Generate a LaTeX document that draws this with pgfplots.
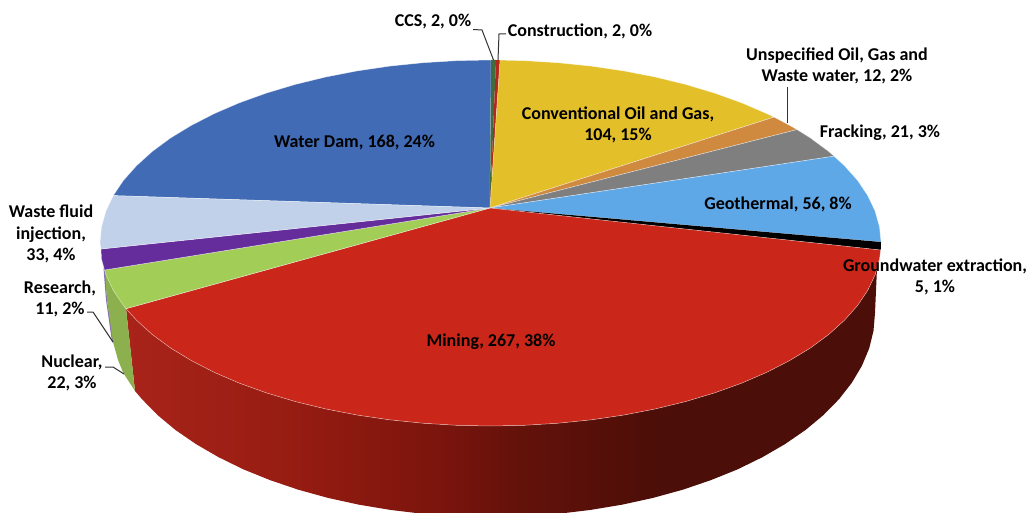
\documentclass[border=0pt]{standalone}
\usepackage{pgfplots}
\pgfplotsset{compat=1.18}
\usepackage{fontspec}
\setmainfont{Carlito}[BoldFont={Carlito Bold}]
\pgfdeclarehorizontalshading{wall}{100bp}{rgb(0bp)=(.66,.14,.10); rgb(25bp)=(.66,.14,.10); rgb(36bp)=(.59,.11,.07); rgb(46bp)=(.48,.08,.05); rgb(51bp)=(.39,.07,.04); rgb(60bp)=(.30,.055,.03); rgb(100bp)=(.30,.055,.03)}
\definecolor{cDam}{HTML}{416BB5}
\definecolor{cYel}{HTML}{E3BF2A}
\definecolor{cOra}{HTML}{CF8A3F}
\definecolor{cGry}{HTML}{7F7F7F}
\definecolor{cGeo}{HTML}{5FA8E8}
\definecolor{cRed}{HTML}{CA271A}
\definecolor{cGrn}{HTML}{A2CE58}
\definecolor{cGrnS}{HTML}{8DB04E}
\definecolor{cPur}{HTML}{652D9B}
\definecolor{cPurS}{HTML}{8A70B8}
\definecolor{cWst}{HTML}{C1D1EA}
\definecolor{cCcs}{HTML}{3F6D3B}
\definecolor{cCon}{HTML}{B5261C}
\pgfplotsset{slice/.style={fill=#1,draw=white,draw opacity=.55,line width=.5pt,line join=round,forget plot},
 leader/.style={draw=black!80,line width=1pt,forget plot}}
\tikzset{lab/.style={font=\fontsize{18}{21.5}\selectfont\bfseries,align=center,inner sep=0pt,text=black}}
\begin{document}
\begin{tikzpicture}
\useasboundingbox (0,0) rectangle (1028pt,513pt);
\begin{axis}[hide axis,scale only axis,width=1028pt,height=513pt,xmin=0,xmax=1028,ymin=0,ymax=513,y dir=reverse,no markers,clip mode=individual,at={(0,0)},anchor=south west]
% side walls
\addplot[shading=wall,draw=none,forget plot] coordinates {(877,268)(875.1,274.8)(867.7,290.4)(857.5,305.6)(844.4,320.3)(828.7,334.5)(810.4,348)(789.6,360.6)(766.6,372.4)(741.5,383.2)(714.5,392.9)(685.8,401.5)(655.5,408.9)(624.1,415)(591.6,419.8)(558.3,423.2)(524.6,425.3)(490.5,426)(456.4,425.3)(422.7,423.2)(389.4,419.8)(356.9,415)(325.5,408.9)(295.2,401.5)(266.5,392.9)(239.5,383.2)(214.4,372.4)(191.4,360.6)(170.6,348)(152.3,334.5)(136.6,320.3)(126,308.7)(135,391)(142,399.2)(157.5,415)(175.5,430)(196,444.1)(218.6,457.2)(243.3,469.3)(270,480.1)(298.3,489.7)(328,497.9)(359,504.7)(391,510)(423.7,513.9)(457,516.2)(490.5,517)(524,516.2)(557.3,513.9)(590,510)(622,504.7)(653,497.9)(682.8,489.7)(711,480.1)(737.7,469.3)(762.4,457.2)(785,444.1)(805.5,430)(823.5,415)(839,399.2)(851.8,382.8)(861.9,365.8)(869.2,348.4)(873.5,330.8)(875,313)} -- cycle;
\addplot[fill=cPurS,draw=none,forget plot] coordinates {(103.5,268)(106,300)(112,342)(114,343)(107,300)(105.5,268)} -- cycle;
\addplot[fill=cGrnS,draw=none,forget plot] coordinates {(105,271)(107,300)(113,342)(118,360)(123.3,373)(135,391)(126,308.7)} -- cycle;
% top faces
\addplot[slice=cDam] coordinates {(490,208)(113.3,195.6)(123.5,180.4)(136.6,165.7)(152.3,151.5)(170.6,138)(191.4,125.4)(214.4,113.6)(239.5,102.8)(266.5,93.1)(295.2,84.5)(325.5,77.1)(356.9,71)(389.4,66.2)(422.7,62.8)(456.4,60.7)(491,60)} -- cycle;
\addplot[fill=cCcs,draw=none,forget plot] coordinates {(490,208)(491,60)(496,60)} -- cycle;
\addplot[fill=cCon,draw=none,forget plot] coordinates {(490,208)(496,60)(500,60.1)} -- cycle;
\addplot[slice=cYel] coordinates {(490,208)(500,60.1)(524.6,60.7)(558.3,62.8)(591.6,66.2)(624.1,71)(655.5,77.1)(685.8,84.5)(714.5,93.1)(741.5,102.8)(766.6,113.6)(774,117.1)} -- cycle;
\addplot[slice=cOra] coordinates {(490,208)(774,117.1)(789.6,125.4)(797,129.6)} -- cycle;
\addplot[slice=cGry] coordinates {(490,208)(797,129.6)(810.4,138)(828.7,151.5)(834,156.2)} -- cycle;
\addplot[slice=cGeo] coordinates {(490,208)(834,156.2)(844.4,165.7)(857.5,180.4)(867.7,195.6)(875.1,211.2)(879.5,227)(881,242)} -- cycle;
\addplot[fill=black,draw=none,forget plot] coordinates {(490,208)(881,242)(880.7,250)} -- cycle;
\addplot[slice=cRed] coordinates {(490,208)(880.7,250)(879.5,259)(875.1,274.8)(867.7,290.4)(857.5,305.6)(844.4,320.3)(828.7,334.5)(810.4,348)(789.6,360.6)(766.6,372.4)(741.5,383.2)(714.5,392.9)(685.8,401.5)(655.5,408.9)(624.1,415)(591.6,419.8)(558.3,423.2)(524.6,425.3)(490.5,426)(456.4,425.3)(422.7,423.2)(389.4,419.8)(356.9,415)(325.5,408.9)(295.2,401.5)(266.5,392.9)(239.5,383.2)(214.4,372.4)(191.4,360.6)(170.6,348)(152.3,334.5)(136.6,320.3)(126,308.7)} -- cycle;
\addplot[slice=cGrn] coordinates {(490,208)(126,308.7)(123.5,305.6)(113.3,290.4)(105.9,274.8)(104.5,270)} -- cycle;
\addplot[slice=cPur] coordinates {(490,208)(104.5,270)(101.5,259)(101,249)} -- cycle;
\addplot[slice=cWst] coordinates {(490,208)(101,249)(100,243)(101.5,227)(105.9,211.2)(113.3,195.6)} -- cycle;
% leaders
\addplot[leader] coordinates {(473,29.5)(482,30)(493.5,60)};
\addplot[leader] coordinates {(506,34)(499,34)(498,60)};
\addplot[leader] coordinates {(787,87)(787,123)};
\addplot[leader] coordinates {(87,312)(93,312)(113,342)};
\addplot[leader] coordinates {(105,367)(113,367)(124,374)};
% labels
\node[lab] at (axis cs:433,22) {CCS, 2, 0\%};
\node[lab] at (axis cs:580,31) {Construction, 2, 0\%};
\node[lab] at (axis cs:837,66) {Unspecified Oil, Gas and\\Waste water, 12, 2\%};
\node[lab] at (axis cs:880,132.5) {Fracking, 21, 3\%};
\node[lab] at (axis cs:778,204.5) {Geothermal, 56, 8\%};
\node[lab] at (axis cs:935,277) {Groundwater extraction,\\5, 1\%};
\node[lab] at (axis cs:618,125) {Conventional Oil and Gas,\\104, 15\%};
\node[lab] at (axis cs:354.5,142.5) {Water Dam, 168, 24\%};
\node[lab] at (axis cs:491,341.5) {Mining, 267, 38\%};
\node[lab] at (axis cs:51,234) {Waste fluid\\injection,\\33, 4\%};
\node[lab] at (axis cs:60,299) {Research,\\11, 2\%};
\node[lab] at (axis cs:72,373) {Nuclear,\\22, 3\%};
\end{axis}
\end{tikzpicture}
\end{document}
